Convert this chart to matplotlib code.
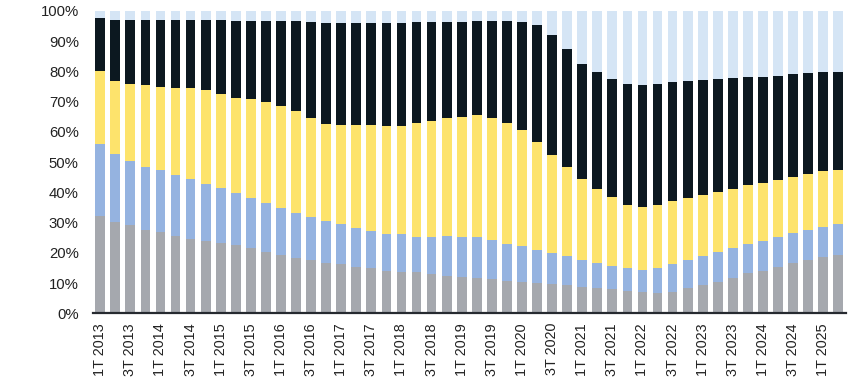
import matplotlib.pyplot as plt
import numpy as np

# quarter labels 1T 2013 .. 2T 2025
quarters = []
for year in range(2013, 2026):
    for q in range(1, 5):
        quarters.append(f"{q}T {year}")
quarters = quarters[:50]

# cumulative tops (%) of each segment
grey_top = [32.2, 30.3, 29.1, 27.6, 26.8, 25.7, 24.6, 23.9, 23.2, 22.5,
            21.6, 20.2, 19.2, 18.4, 17.5, 16.8, 16.2, 15.4, 15.0, 14.1,
            13.8, 13.5, 12.9, 12.3, 12.1, 11.7, 11.2, 10.8, 10.4, 9.9,
            9.7, 9.4, 8.6, 8.3, 7.9, 7.5, 7.1, 6.8, 7.1, 8.4,
            9.3, 10.5, 11.8, 13.2, 14.1, 15.3, 16.5, 17.6, 18.7, 19.3]
blue_top = [56.0, 52.6, 50.5, 48.5, 47.4, 45.8, 44.3, 42.8, 41.3, 39.9,
            38.1, 36.4, 34.7, 33.3, 32.0, 30.5, 29.4, 28.3, 27.2, 26.2,
            26.1, 25.4, 25.1, 25.7, 25.4, 25.1, 24.3, 22.9, 22.1, 20.9,
            19.8, 19.0, 17.6, 16.5, 15.7, 14.9, 14.2, 14.9, 16.3, 17.6,
            19.0, 20.4, 21.7, 22.9, 23.9, 25.2, 26.4, 27.6, 28.7, 29.5]
yellow_top = [80.2, 77.0, 76.0, 75.4, 75.0, 74.6, 74.4, 73.8, 72.7, 71.3,
              70.8, 69.8, 68.6, 67.0, 64.6, 62.6, 62.4, 62.4, 62.2, 62.0,
              62.1, 62.8, 63.5, 64.5, 65.0, 65.5, 64.5, 62.8, 60.6, 56.6,
              52.5, 48.3, 44.3, 41.0, 38.4, 35.9, 35.0, 35.8, 37.3, 38.3,
              39.1, 40.2, 41.2, 42.3, 43.0, 44.2, 45.2, 46.2, 47.0, 47.4]
black_top = [97.8, 97.0, 97.0, 97.0, 97.0, 97.0, 97.0, 96.9, 96.9, 96.8,
             96.8, 96.8, 96.6, 96.6, 96.4, 96.1, 96.1, 96.1, 96.0, 96.1,
             96.1, 96.3, 96.3, 96.5, 96.5, 96.8, 96.6, 96.6, 96.5, 95.3,
             92.2, 87.4, 82.4, 79.9, 77.4, 75.9, 75.4, 76.0, 76.4, 76.8,
             77.1, 77.4, 77.7, 78.1, 78.3, 78.6, 79.1, 79.4, 79.7, 79.8]

grey_top = np.array(grey_top)
blue_top = np.array(blue_top)
yellow_top = np.array(yellow_top)
black_top = np.array(black_top)

tops = [grey_top, blue_top, yellow_top, black_top, np.full(50, 100.0)]
colors = ["#a5a8ae", "#95b3e0", "#fde36c", "#0c1820", "#d5e5f5"]

plt.rcParams['font.family'] = ['Liberation Sans', 'DejaVu Sans']

fig = plt.figure(figsize=(8.61, 3.82), dpi=100)
ax = fig.add_axes([92.7 / 861, (382 - 313.3) / 382, (845.8 - 92.7) / 861, (313.3 - 11) / 382])

x = np.arange(len(quarters))
bottom = np.zeros(len(quarters))
for top, c in zip(tops, colors):
    ax.bar(x, top - bottom, bottom=bottom, width=0.65, color=c, linewidth=0)
    bottom = top

ax.set_xlim(-0.5, len(quarters) - 0.5)
ax.set_ylim(0, 100)
ax.set_yticks(np.arange(0, 101, 10))
ax.set_yticklabels([f"{v}%" for v in range(0, 101, 10)], fontsize=10.7, color="#222222")
ax.set_xticks(x[::2])
ax.set_xticklabels(quarters[::2], rotation=90, fontsize=10.4, color="#222222")
ax.tick_params(axis='both', length=0)
ax.tick_params(axis='y', pad=10)
ax.tick_params(axis='x', pad=7)

for s in ['top', 'right', 'left']:
    ax.spines[s].set_visible(False)
ax.spines['bottom'].set_color('#262a30')
ax.spines['bottom'].set_linewidth(1.6)

fig.savefig("out.png", dpi=100)
